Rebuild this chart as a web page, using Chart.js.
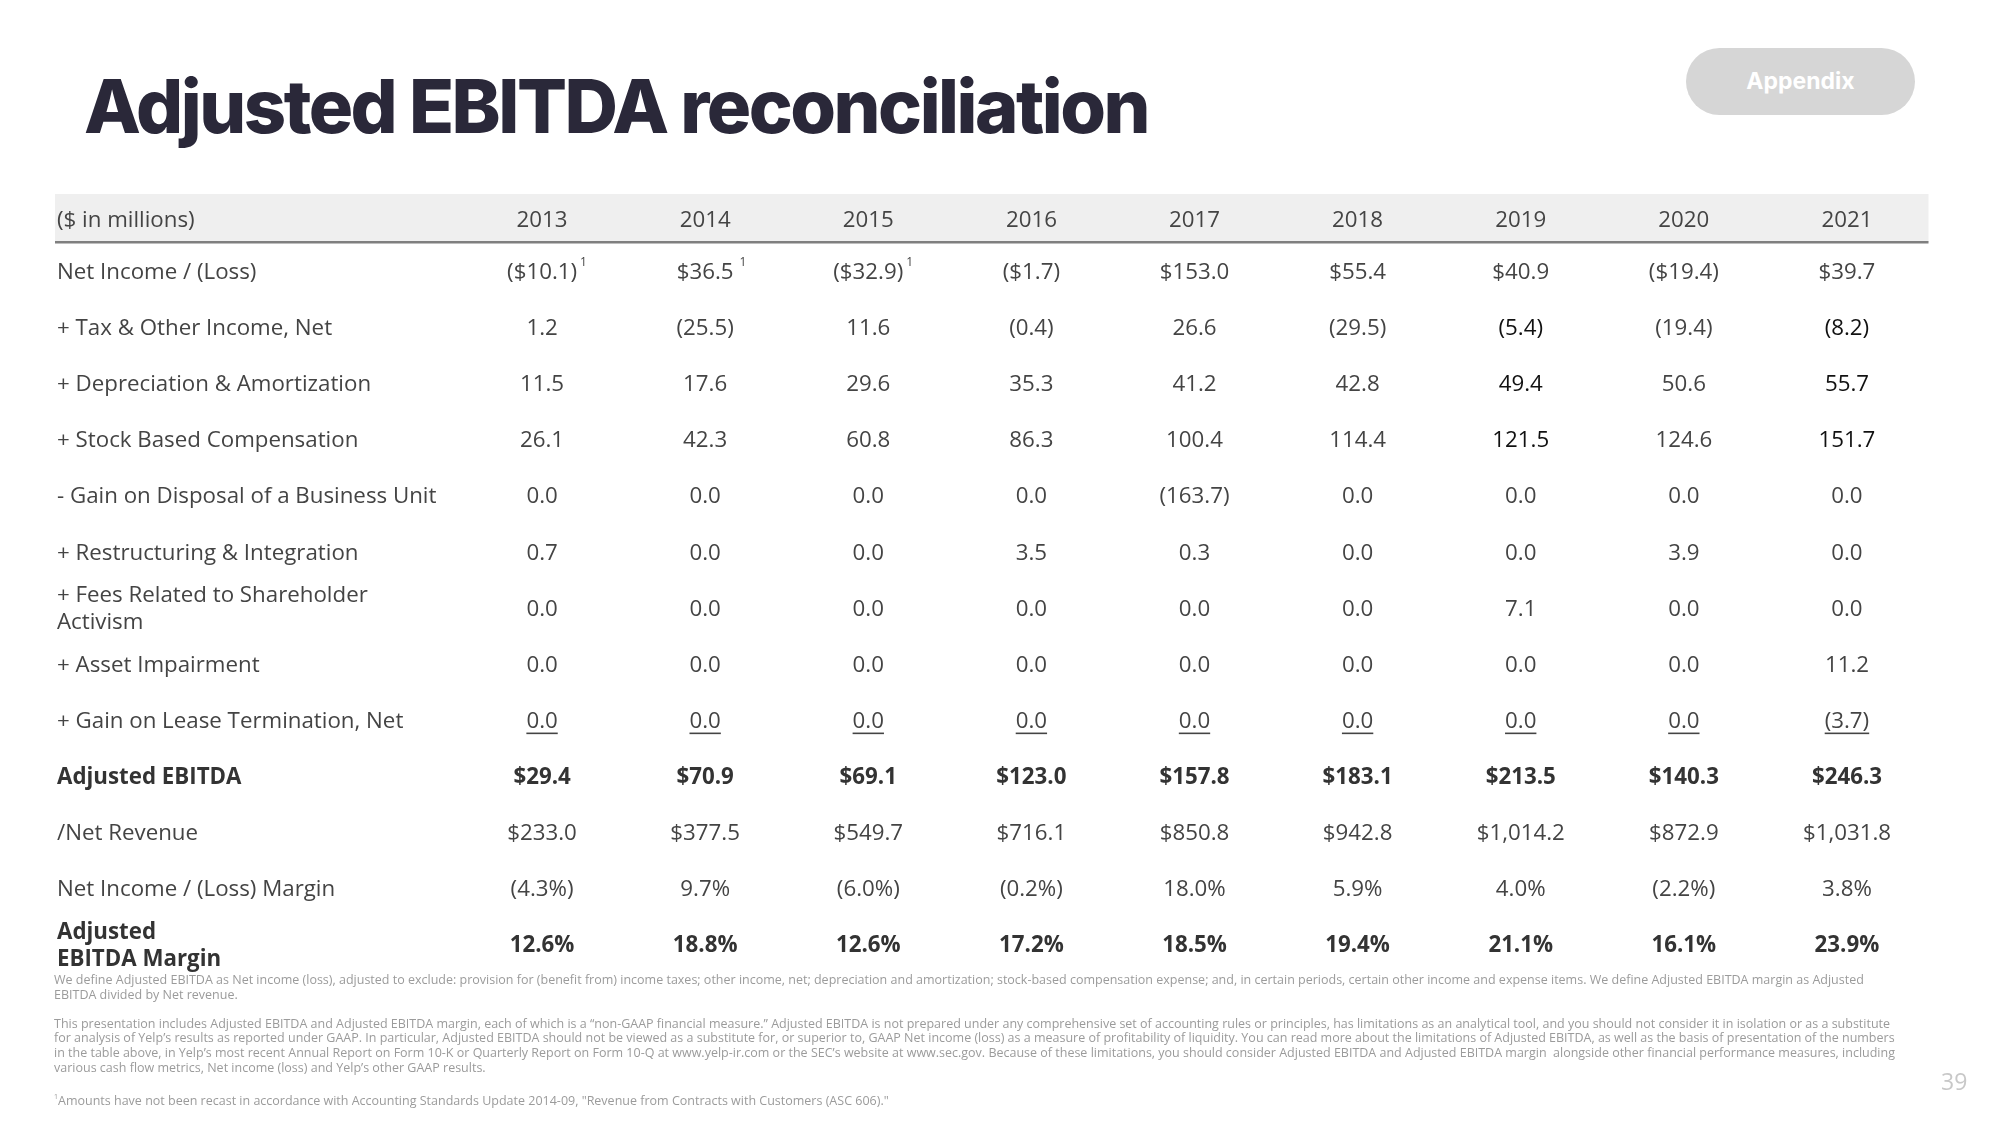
<!DOCTYPE html>
<html>
<head>
<meta charset="utf-8">
<title>Adjusted EBITDA reconciliation</title>
<script src="https://cdn.jsdelivr.net/npm/chart.js@4.4.1/dist/chart.umd.min.js"></script>
<style>
  html, body { margin: 0; padding: 0; background: #ffffff; }
  .slide { position: relative; width: 2000px; height: 1125px; overflow: hidden; font-family: "Open Sans", sans-serif; }
  #grafico-ebitda { position: absolute; left: 0; top: 0; }
  .titulo { position: absolute; left: 84px; top: 69px; margin: 0; font-family: "Inter", sans-serif; font-weight: 800; font-size: 74px; line-height: 74px; color: #2a2839; letter-spacing: -2.5px; white-space: nowrap; }
  .pill { position: absolute; left: 1686px; top: 48px; width: 229px; height: 67px; border-radius: 34px; background: #d6d6d6; color: #ffffff; font-family: "Inter", sans-serif; font-weight: 700; font-size: 23px; line-height: 67px; text-align: center; }
  .notas { position: absolute; left: 54px; top: 973px; font-size: 12.5px; line-height: 14.6px; color: #9b9b9b; white-space: nowrap; }
  .notas div { height: 14.6px; }
  .notas sup { font-size: 7px; vertical-align: 6px; }
  .pagina { position: absolute; left: 1941px; top: 1066px; font-size: 23px; line-height: 30px; color: #c8c8c8; }
</style>
</head>
<body>
<div class="slide">
  <canvas id="grafico-ebitda" width="2000" height="1125"></canvas>
  <h1 class="titulo">Adjusted EBITDA reconciliation</h1>
  <div class="pill">Appendix</div>
  <div class="notas">
    <div>We define Adjusted EBITDA as Net income (loss), adjusted to exclude: provision for (benefit from) income taxes; other income, net; depreciation and amortization; stock-based compensation expense; and, in certain periods, certain other income and expense items. We define Adjusted EBITDA margin as Adjusted</div>
    <div>EBITDA divided by Net revenue.</div>
    <div></div>
    <div>This presentation includes Adjusted EBITDA and Adjusted EBITDA margin, each of which is a “non-GAAP financial measure.” Adjusted EBITDA is not prepared under any comprehensive set of accounting rules or principles, has limitations as an analytical tool, and you should not consider it in isolation or as a substitute</div>
    <div>for analysis of Yelp’s results as reported under GAAP. In particular, Adjusted EBITDA should not be viewed as a substitute for, or superior to, GAAP Net income (loss) as a measure of profitability of liquidity. You can read more about the limitations of Adjusted EBITDA, as well as the basis of presentation of the numbers</div>
    <div>in the table above, in Yelp’s most recent Annual Report on Form 10-K or Quarterly Report on Form 10-Q at www.yelp-ir.com or the SEC’s website at www.sec.gov. Because of these limitations, you should consider Adjusted EBITDA and Adjusted EBITDA margin &nbsp;alongside other financial performance measures, including</div>
    <div>various cash flow metrics, Net income (loss) and Yelp’s other GAAP results.</div>
    <div></div>
    <div><sup>1</sup>Amounts have not been recast in accordance with Accounting Standards Update 2014-09, "Revenue from Contracts with Customers (ASC 606)."</div>
  </div>
  <div class="pagina">39</div>
</div>
<script>
const ctxEbitda = document.getElementById("grafico-ebitda").getContext("2d");

const years = ["2013", "2014", "2015", "2016", "2017", "2018", "2019", "2020", "2021"];
const unitsLabel = "($ in millions)";
const rowLabels = [
  "Net Income / (Loss)",
  "+ Tax & Other Income, Net",
  "+ Depreciation & Amortization",
  "+ Stock Based Compensation",
  "- Gain on Disposal of a Business Unit",
  "+ Restructuring & Integration",
  "+ Fees Related to Shareholder\nActivism",
  "+ Asset Impairment",
  "+ Gain on Lease Termination, Net",
  "Adjusted EBITDA",
  "/Net Revenue",
  "Net Income / (Loss) Margin",
  "Adjusted\nEBITDA Margin",
];
const netIncome = [-10.1, 36.5, -32.9, -1.7, 153.0, 55.4, 40.9, -19.4, 39.7];
const netIncomeNotes = ["1", "1", "1", "", "", "", "", "", ""];
const taxOtherIncome = [1.2, -25.5, 11.6, -0.4, 26.6, -29.5, -5.4, -19.4, -8.2];
const depreciation = [11.5, 17.6, 29.6, 35.3, 41.2, 42.8, 49.4, 50.6, 55.7];
const stockComp = [26.1, 42.3, 60.8, 86.3, 100.4, 114.4, 121.5, 124.6, 151.7];
const gainDisposal = [0.0, 0.0, 0.0, 0.0, -163.7, 0.0, 0.0, 0.0, 0.0];
const restructuring = [0.7, 0.0, 0.0, 3.5, 0.3, 0.0, 0.0, 3.9, 0.0];
const activismFees = [0.0, 0.0, 0.0, 0.0, 0.0, 0.0, 7.1, 0.0, 0.0];
const assetImpairment = [0.0, 0.0, 0.0, 0.0, 0.0, 0.0, 0.0, 0.0, 11.2];
const leaseGain = [0.0, 0.0, 0.0, 0.0, 0.0, 0.0, 0.0, 0.0, -3.7];
const adjustedEbitda = [29.4, 70.9, 69.1, 123.0, 157.8, 183.1, 213.5, 140.3, 246.3];
const netRevenue = [233.0, 377.5, 549.7, 716.1, 850.8, 942.8, 1014.2, 872.9, 1031.8];
const netIncomeMargin = [-4.3, 9.7, -6.0, -0.2, 18.0, 5.9, 4.0, -2.2, 3.8];
const adjustedEbitdaMargin = [12.6, 18.8, 12.6, 17.2, 18.5, 19.4, 21.1, 16.1, 23.9];

// one entry per table row, same order as rowLabels
const rowValues = [netIncome, taxOtherIncome, depreciation, stockComp, gainDisposal, restructuring,
  activismFees, assetImpairment, leaseGain, adjustedEbitda, netRevenue, netIncomeMargin, adjustedEbitdaMargin];
const rowKinds = ["money", "num", "num", "num", "num", "num", "num", "num", "num", "money", "money", "pct", "pct"];
const boldRows = [9, 12];
const underlineRow = 8;
const darkCells = { 6: [1, 2, 3], 8: [1, 2, 3] };

const FONT = "'Open Sans', sans-serif";
const TEXT = "#444444";
const DY = 2.5; // glyph centre sits a little below the canvas "middle" line

function formatCell(v, kind) {
  const abs = Math.abs(v).toLocaleString("en-US", { minimumFractionDigits: 1, maximumFractionDigits: 1 });
  const body = kind === "money" ? "$" + abs : kind === "pct" ? abs + "%" : abs;
  return v < 0 ? "(" + body + ")" : body;
}

const tablePlugin = {
  id: "tabela",
  beforeDatasetsDraw(chart) {
    const { ctx, chartArea } = chart;
    ctx.save();
    ctx.fillStyle = "#efefef";
    ctx.fillRect(55, chartArea.top - 48, chartArea.right - 55, 48);
    ctx.fillStyle = "#7f7f7f";
    ctx.fillRect(55, chartArea.top - 1, chartArea.right - 55, 2.5);
    ctx.restore();
  },
  afterDatasetsDraw(chart) {
    const { ctx, chartArea, scales } = chart;
    const labelX = 57;
    ctx.save();
    ctx.textBaseline = "middle";

    // header
    ctx.font = "22.3px " + FONT;
    ctx.fillStyle = TEXT;
    ctx.textAlign = "left";
    ctx.fillText(unitsLabel, labelX, chartArea.top - 24 + DY);
    ctx.textAlign = "center";
    years.forEach((y, i) => ctx.fillText(y, scales.x.getPixelForValue(i), chartArea.top - 24 + DY));

    rowLabels.forEach((label, r) => {
      const bold = boldRows.includes(r);
      const font = (bold ? "bold " : "") + "22.3px " + FONT;
      const yPix = scales.y.getPixelForValue(r) + DY;
      const lines = label.split("\n");
      ctx.font = font;
      ctx.fillStyle = bold ? "#333333" : TEXT;
      ctx.textAlign = "left";
      lines.forEach((ln, k) => ctx.fillText(ln, labelX, yPix + (k - (lines.length - 1) / 2) * 27.5));

      const meta = chart.getDatasetMeta(r);
      meta.data.forEach((pt, i) => {
        const txt = formatCell(rowValues[r][i], rowKinds[r]);
        const dark = darkCells[i] && darkCells[i].includes(r);
        const y = pt.y + DY;
        ctx.font = font;
        ctx.fillStyle = bold ? "#333333" : dark ? "#111111" : TEXT;
        ctx.textAlign = "center";
        ctx.fillText(txt, pt.x, y);
        const w = ctx.measureText(txt).width;
        if (r === 0 && netIncomeNotes[i]) {
          ctx.font = "12px " + FONT;
          ctx.textAlign = "left";
          ctx.fillText(netIncomeNotes[i], pt.x + w / 2 + (i === 1 ? 6 : 3), y - 10);
        }
        if (r === underlineRow) {
          ctx.fillRect(pt.x - w / 2, y + 11, w, 1.6);
        }
      });
    });
    ctx.restore();
  },
};

const chartEbitda = {
  labels: years,
  datasets: rowLabels.map((label, r) => ({
    label: label,
    data: years.map((y, i) => ({ x: y, y: label, v: rowValues[r][i] })),
    showLine: false,
    pointRadius: 0,
    pointHoverRadius: 0,
  })),
};

const ebitdaConfig = {
  type: "line",
  data: chartEbitda,
  options: {
    responsive: false,
    animation: false,
    events: [],
    layout: { padding: { left: 460.5, right: 71.5, top: 242, bottom: 153.4 } },
    scales: {
      x: { type: "category", labels: years, offset: true, display: false },
      y: { type: "category", labels: rowLabels, offset: true, display: false },
    },
    plugins: {
      legend: { display: false },
      tooltip: { enabled: false },
    },
  },
  plugins: [tablePlugin],
};
const graficoEbitda = new Chart(ctxEbitda, ebitdaConfig);
</script>
</body>
</html>
